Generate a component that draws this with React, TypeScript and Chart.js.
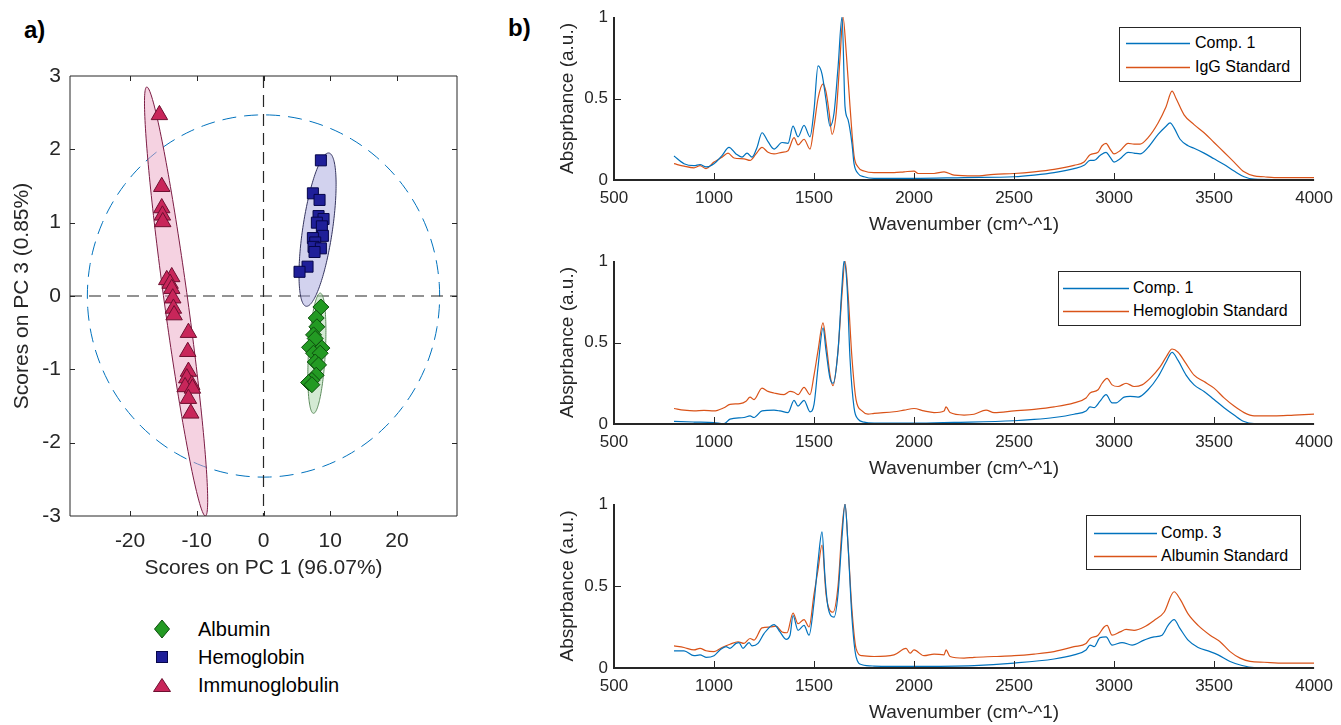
import React, { useEffect, useRef } from "react";
import { Chart, registerables } from "chart.js";
Chart.register(...registerables);

// ---------------- PCA scores (panel a) ----------------
const albuminPC1 = [8.6, 7.9, 8.0, 7.5, 7.75, 6.9, 8.75, 7.5, 8.5, 7.75, 8.25, 7.9, 7.25, 6.75, 7.25];
const albuminPC3 = [-0.15, -0.3, -0.42, -0.53, -0.58, -0.7, -0.71, -0.78, -0.78, -0.9, -0.94, -1.08, -1.15, -1.18, -1.21];
const hemoglobinPC1 = [8.6, 7.4, 8.4, 8.25, 9.0, 8.0, 8.75, 8.9, 7.4, 7.75, 7.5, 8.6, 7.65, 6.6, 5.4];
const hemoglobinPC3 = [1.85, 1.4, 1.31, 1.09, 1.05, 1.0, 0.95, 0.82, 0.79, 0.73, 0.67, 0.65, 0.6, 0.4, 0.33];
const immunoPC1 = [-15.6, -15.25, -15.25, -15.15, -15.1, -13.75, -14.5, -14.0, -13.75, -13.6, -13.5, -13.4, -11.25, -11.35, -11.25, -11.5, -10.75, -11.75, -10.65, -11.25, -10.9];
const immunoPC3 = [2.47, 1.49, 1.2, 1.1, 1.01, 0.26, 0.22, 0.17, 0.1, -0.03, -0.17, -0.26, -0.5, -0.76, -1.03, -1.12, -1.21, -1.24, -1.26, -1.4, -1.6];

// confidence ellipses: centre + two conjugate semi-axes (data units)
// order: 95% limit circle, Immunoglobulin, Hemoglobin, Albumin
const ellipseCX = [0, -13.1, 8.1, 8.0];
const ellipseCY = [0, -0.075, 0.905, -0.78];
const ellipseAX = [26.4, -4.4, 1.7, 0.5];
const ellipseAY = [0, 2.925, 1.045, 0.82];
const ellipseBX = [0, 1.75, 2.2, 1.26];
const ellipseBY = [2.47, 0.02, -0.03, 0];

const pc1Ticks = [-20, -10, 0, 10, 20];
const pc3Ticks = [-3, -2, -1, 0, 1, 2, 3];

// ---------------- Spectra (panel b) ----------------
const wnTicks = [500, 1000, 1500, 2000, 2500, 3000, 3500, 4000];
const absTicks = [0, 0.5, 1];

// IgG panel
const iggCompWn = [800,850,900,930,960,1000,1040,1075,1110,1140,1165,1190,1215,1240,1270,1300,1340,1370,1395,1420,1450,1480,1500,1520,1540,1560,1580,1600,1620,1640,1655,1670,1690,1700,1720,1750,1800,2000,2250,2500,2600,2700,2800,2850,2880,2900,2930,2960,2980,3000,3030,3070,3100,3130,3170,3220,3260,3280,3300,3330,3370,3400,3450,3500,3550,3600,3650,3700,3800,4000];
const iggCompAbs = [0.147,0.10,0.088,0.095,0.08,0.10,0.15,0.20,0.16,0.14,0.165,0.14,0.20,0.29,0.235,0.19,0.23,0.225,0.33,0.265,0.335,0.265,0.43,0.70,0.65,0.49,0.33,0.41,0.69,1.0,0.45,0.37,0.22,0.10,0.04,0.02,0.01,0.01,0.015,0.02,0.03,0.045,0.07,0.09,0.12,0.12,0.15,0.17,0.14,0.11,0.13,0.17,0.165,0.16,0.20,0.28,0.33,0.35,0.32,0.25,0.21,0.195,0.165,0.13,0.095,0.055,0.02,0.005,0.003,0.003];
const iggStdWn = [800,850,900,930,960,1000,1040,1070,1100,1150,1180,1210,1240,1270,1300,1340,1370,1400,1420,1450,1480,1500,1520,1545,1560,1575,1590,1610,1630,1645,1660,1680,1700,1720,1750,1800,1900,1950,2000,2020,2100,2150,2200,2300,2400,2500,2600,2700,2800,2850,2880,2920,2940,2960,2980,3000,3030,3070,3100,3130,3170,3220,3260,3290,3310,3350,3400,3450,3500,3550,3600,3650,3700,3750,3800,4000];
const iggStdAbs = [0.10,0.085,0.075,0.088,0.07,0.11,0.14,0.165,0.135,0.13,0.12,0.16,0.20,0.17,0.16,0.17,0.18,0.26,0.215,0.25,0.19,0.33,0.50,0.59,0.54,0.42,0.28,0.40,0.75,1.0,0.80,0.45,0.15,0.08,0.055,0.045,0.045,0.05,0.055,0.04,0.04,0.05,0.03,0.025,0.035,0.04,0.05,0.065,0.09,0.11,0.155,0.17,0.21,0.225,0.19,0.16,0.18,0.225,0.22,0.22,0.26,0.35,0.45,0.545,0.50,0.40,0.34,0.29,0.23,0.17,0.11,0.05,0.025,0.02,0.015,0.015];

// Hemoglobin panel
const hbCompWn = [800,900,1000,1050,1080,1150,1180,1200,1240,1300,1330,1370,1400,1420,1450,1480,1500,1520,1545,1560,1580,1595,1620,1640,1650,1665,1680,1700,1720,1750,1800,2000,2200,2500,2600,2700,2800,2860,2880,2900,2930,2960,2990,3010,3050,3080,3120,3170,3220,3260,3290,3320,3360,3400,3450,3500,3550,3600,3650,3700,4000];
const hbCompAbs = [0.016,0.012,0.008,0.002,0.03,0.04,0.05,0.04,0.08,0.085,0.08,0.07,0.145,0.11,0.145,0.075,0.12,0.35,0.59,0.45,0.28,0.25,0.45,0.85,1.0,0.85,0.4,0.1,0.03,0.012,0.006,0.005,0.01,0.02,0.028,0.04,0.06,0.08,0.105,0.10,0.14,0.18,0.13,0.13,0.165,0.17,0.165,0.21,0.29,0.38,0.44,0.39,0.30,0.24,0.20,0.15,0.10,0.055,0.015,0.003,0.002];
const hbStdWn = [800,850,900,950,1000,1050,1080,1130,1160,1180,1200,1240,1270,1300,1350,1380,1400,1420,1450,1480,1500,1520,1545,1560,1580,1595,1620,1640,1655,1670,1690,1710,1740,1770,1800,1900,1950,2000,2050,2100,2150,2160,2180,2250,2300,2360,2400,2500,2600,2700,2800,2860,2880,2920,2940,2965,2990,3020,3060,3100,3140,3180,3230,3260,3290,3320,3360,3400,3450,3500,3550,3600,3650,3700,3800,3900,4000];
const hbStdAbs = [0.095,0.085,0.08,0.083,0.08,0.10,0.12,0.125,0.14,0.165,0.15,0.22,0.20,0.19,0.18,0.20,0.195,0.18,0.225,0.18,0.30,0.45,0.62,0.50,0.30,0.235,0.45,0.80,1.0,0.80,0.40,0.15,0.08,0.06,0.065,0.075,0.085,0.095,0.08,0.07,0.08,0.105,0.07,0.055,0.06,0.085,0.07,0.08,0.09,0.105,0.13,0.16,0.19,0.21,0.25,0.28,0.24,0.23,0.25,0.23,0.24,0.28,0.35,0.41,0.46,0.44,0.37,0.30,0.26,0.22,0.16,0.11,0.07,0.05,0.05,0.055,0.06];

// Albumin panel
const albCompWn = [800,850,900,930,960,1000,1030,1060,1080,1110,1125,1145,1175,1190,1220,1250,1300,1330,1360,1380,1395,1420,1450,1475,1500,1520,1540,1555,1570,1600,1620,1640,1655,1670,1690,1710,1740,1800,2000,2300,2500,2700,2800,2860,2880,2900,2930,2960,2990,3040,3090,3150,3200,3240,3270,3300,3330,3370,3420,3480,3520,3580,3640,3700,4000];
const albCompAbs = [0.105,0.105,0.075,0.08,0.065,0.075,0.11,0.13,0.12,0.15,0.155,0.12,0.155,0.135,0.15,0.21,0.265,0.22,0.175,0.20,0.32,0.23,0.26,0.20,0.40,0.65,0.83,0.55,0.37,0.31,0.45,0.80,1.0,0.75,0.30,0.07,0.02,0.012,0.01,0.015,0.03,0.055,0.08,0.11,0.14,0.13,0.185,0.19,0.14,0.155,0.14,0.17,0.19,0.20,0.26,0.295,0.24,0.17,0.125,0.10,0.08,0.04,0.015,0.003,0.002];
const albStdWn = [800,850,900,930,960,1000,1040,1080,1120,1150,1180,1200,1240,1280,1310,1340,1365,1395,1420,1450,1475,1500,1520,1540,1560,1580,1595,1620,1640,1655,1670,1690,1710,1740,1800,1900,1960,1980,2000,2050,2100,2150,2160,2180,2250,2300,2400,2500,2600,2700,2800,2860,2880,2920,2950,2965,2990,3030,3060,3100,3150,3200,3250,3300,3330,3370,3420,3480,3530,3580,3630,3680,3750,3850,4000];
const albStdAbs = [0.135,0.125,0.11,0.12,0.105,0.10,0.125,0.145,0.16,0.15,0.18,0.17,0.245,0.25,0.255,0.22,0.215,0.335,0.27,0.295,0.25,0.45,0.60,0.75,0.45,0.35,0.34,0.50,0.85,1.0,0.75,0.35,0.12,0.075,0.07,0.08,0.12,0.09,0.11,0.075,0.085,0.08,0.11,0.07,0.06,0.065,0.07,0.075,0.085,0.10,0.13,0.15,0.18,0.20,0.25,0.26,0.20,0.22,0.235,0.23,0.25,0.29,0.34,0.465,0.42,0.33,0.26,0.20,0.16,0.10,0.06,0.04,0.035,0.03,0.03];

// ---------------- styles ----------------
const FONT = "'Liberation Sans', Arial, Helvetica, sans-serif";
const AXIS = "#262626";
const BLUE = "#0072BD";
const ORANGE = "#D95319";
const ellipseFill = [null, "rgba(236,166,196,0.5)", "rgba(166,166,222,0.5)", "rgba(168,214,168,0.5)"];
const ellipseStroke = [BLUE, "#7b1c44", "#34345e", "#5b8a5b"];

const zip = (xs: number[], ys: number[]) => xs.map((x, i) => ({ x, y: ys[i] }));

const matlabAxesPlugin = {
  id: "matlabAxes",
  afterDraw(chart: any, _a: any, opts: any) {
    const { ctx, chartArea } = chart;
    const { left, right, top, bottom } = chartArea;
    const xs = chart.scales.x;
    const ys = chart.scales.y;
    const L = opts.tickLen;
    ctx.save();
    ctx.strokeStyle = AXIS;
    ctx.lineWidth = opts.lineWidth;
    ctx.setLineDash([]);
    ctx.beginPath();
    if (opts.box) {
      ctx.rect(left, top, right - left, bottom - top);
    } else {
      ctx.moveTo(left, top);
      ctx.lineTo(left, bottom);
      ctx.lineTo(right, bottom);
    }
    ctx.stroke();
    ctx.lineWidth = 1;
    ctx.beginPath();
    xs.ticks.forEach((t: any) => {
      const p = Math.round(xs.getPixelForValue(t.value)) + 0.5;
      if (p <= left + 2 || p >= right - 2) return;
      ctx.moveTo(p, bottom);
      ctx.lineTo(p, bottom - L);
      if (opts.box) {
        ctx.moveTo(p, top);
        ctx.lineTo(p, top + L);
      }
    });
    ys.ticks.forEach((t: any) => {
      const p = Math.round(ys.getPixelForValue(t.value)) + 0.5;
      if (p <= top + 2 || p >= bottom - 2) return;
      ctx.moveTo(left, p);
      ctx.lineTo(left + L, p);
      if (opts.box) {
        ctx.moveTo(right, p);
        ctx.lineTo(right - L, p);
      }
    });
    ctx.stroke();
    ctx.restore();
  },
};

const scoreOverlayPlugin = {
  id: "scoreOverlay",
  beforeDatasetsDraw(chart: any) {
    const { ctx, chartArea } = chart;
    const xs = chart.scales.x;
    const ys = chart.scales.y;
    ctx.save();
    ctx.beginPath();
    ctx.rect(chartArea.left, chartArea.top, chartArea.width, chartArea.height);
    ctx.clip();
    const drawEllipse = (i: number) => {
      ctx.beginPath();
      const N = 180;
      for (let k = 0; k <= N; k++) {
        const t = (k / N) * Math.PI * 2;
        const dx = ellipseCX[i] + ellipseAX[i] * Math.cos(t) + ellipseBX[i] * Math.sin(t);
        const dy = ellipseCY[i] + ellipseAY[i] * Math.cos(t) + ellipseBY[i] * Math.sin(t);
        const px = xs.getPixelForValue(dx);
        const py = ys.getPixelForValue(dy);
        if (k === 0) ctx.moveTo(px, py);
        else ctx.lineTo(px, py);
      }
      ctx.closePath();
    };
    ctx.setLineDash([14, 8]);
    ctx.strokeStyle = ellipseStroke[0];
    ctx.lineWidth = 1;
    drawEllipse(0);
    ctx.stroke();
    ctx.setLineDash([12, 7]);
    ctx.strokeStyle = AXIS;
    ctx.lineWidth = 1.2;
    const x0 = xs.getPixelForValue(0);
    const y0 = ys.getPixelForValue(0);
    ctx.beginPath();
    ctx.moveTo(x0, chartArea.top);
    ctx.lineTo(x0, chartArea.bottom);
    ctx.moveTo(chartArea.left, y0);
    ctx.lineTo(chartArea.right, y0);
    ctx.stroke();
    ctx.setLineDash([]);
    for (let i = 1; i < ellipseCX.length; i++) {
      drawEllipse(i);
      ctx.fillStyle = ellipseFill[i] as string;
      ctx.fill();
      ctx.strokeStyle = ellipseStroke[i];
      ctx.lineWidth = 1;
      ctx.stroke();
    }
    ctx.restore();
  },
};

function ScoresChart() {
  const ref = useRef<HTMLCanvasElement>(null);
  useEffect(() => {
    const tickFont = { family: FONT, size: 21 };
    const chart = new Chart(ref.current as HTMLCanvasElement, {
      type: "scatter",
      data: {
        datasets: [
          {
            label: "Albumin",
            data: zip(albuminPC1, albuminPC3),
            pointStyle: "rectRot",
            pointRadius: 8,
            backgroundColor: "#239a23",
            borderColor: "#0d4d0d",
            borderWidth: 1,
          },
          {
            label: "Hemoglobin",
            data: zip(hemoglobinPC1, hemoglobinPC3),
            pointStyle: "rect",
            pointRadius: 7.8,
            backgroundColor: "#1f1f99",
            borderColor: "#06064a",
            borderWidth: 1,
          },
          {
            label: "Immunoglobulin",
            data: zip(immunoPC1, immunoPC3),
            pointStyle: "triangle",
            pointRadius: 9.5,
            backgroundColor: "#c8265a",
            borderColor: "#6e0f30",
            borderWidth: 1,
          },
        ],
      } as any,
      options: {
        responsive: false,
        animation: false,
        events: [],
        layout: { padding: { left: 0, right: 23, top: 76, bottom: 0 } },
        plugins: {
          legend: { display: false },
          tooltip: { enabled: false },
          matlabAxes: { box: true, tickLen: 5, lineWidth: 1 },
        } as any,
        scales: {
          x: {
            type: "linear",
            min: -29,
            max: 29,
            afterBuildTicks: (s: any) => {
              s.ticks = pc1Ticks.map((v) => ({ value: v }));
            },
            afterFit: (s: any) => {
              s.height = 84;
            },
            grid: { display: false, drawTicks: false },
            border: { display: false },
            ticks: { padding: 13, color: AXIS, font: tickFont, autoSkip: false, maxRotation: 0, callback: (v: any) => String(v) },
            title: { display: true, text: "Scores on PC 1 (96.07%)", color: AXIS, font: tickFont, padding: { top: 0, bottom: 19 } },
          },
          y: {
            type: "linear",
            min: -3,
            max: 3,
            afterBuildTicks: (s: any) => {
              s.ticks = pc3Ticks.map((v) => ({ value: v }));
            },
            afterFit: (s: any) => {
              s.width = 70;
            },
            grid: { display: false, drawTicks: false },
            border: { display: false },
            ticks: { padding: 9, color: AXIS, font: tickFont, autoSkip: false, callback: (v: any) => String(v) },
            title: { display: true, text: "Scores on PC 3 (0.85%)", color: AXIS, font: tickFont, padding: { top: 10, bottom: 0 } },
          },
        },
      } as any,
      plugins: [scoreOverlayPlugin, matlabAxesPlugin],
    });
    return () => chart.destroy();
  }, []);
  return <canvas ref={ref} width={480} height={600} style={{ position: "absolute", left: 0, top: 0, width: 480, height: 600 }} />;
}

function SpectrumChart(props: {
  top: number;
  height: number;
  padTop: number;
  compLabel: string;
  stdLabel: string;
  compWn: number[];
  compAbs: number[];
  stdWn: number[];
  stdAbs: number[];
}) {
  const ref = useRef<HTMLCanvasElement>(null);
  useEffect(() => {
    const tickFont = { family: FONT, size: 17 };
    const titleFont = { family: FONT, size: 19 };
    const chart = new Chart(ref.current as HTMLCanvasElement, {
      type: "line",
      data: {
        datasets: [
          {
            label: props.compLabel,
            data: zip(props.compWn, props.compAbs),
            borderColor: BLUE,
            borderWidth: 1.2,
            pointRadius: 0,
            cubicInterpolationMode: "monotone",
            fill: false,
          },
          {
            label: props.stdLabel,
            data: zip(props.stdWn, props.stdAbs),
            borderColor: ORANGE,
            borderWidth: 1.2,
            pointRadius: 0,
            cubicInterpolationMode: "monotone",
            fill: false,
          },
        ],
      } as any,
      options: {
        responsive: false,
        animation: false,
        events: [],
        layout: { padding: { left: 0, right: 23, top: props.padTop, bottom: 0 } },
        plugins: {
          legend: { display: false },
          tooltip: { enabled: false },
          matlabAxes: { box: false, tickLen: 7, lineWidth: 2 },
        } as any,
        scales: {
          x: {
            type: "linear",
            min: 500,
            max: 4000,
            afterBuildTicks: (s: any) => {
              s.ticks = wnTicks.map((v) => ({ value: v }));
            },
            afterFit: (s: any) => {
              s.height = 57;
            },
            grid: { display: false, drawTicks: false },
            border: { display: false },
            ticks: { padding: 8, color: AXIS, font: tickFont, autoSkip: false, maxRotation: 0, callback: (v: any) => String(v) },
            title: { display: true, text: "Wavenumber (cm^-^1)", color: AXIS, font: titleFont, padding: { top: 0, bottom: 1 } },
          },
          y: {
            type: "linear",
            min: 0,
            max: 1,
            afterBuildTicks: (s: any) => {
              s.ticks = absTicks.map((v) => ({ value: v }));
            },
            afterFit: (s: any) => {
              s.width = 114;
            },
            grid: { display: false, drawTicks: false },
            border: { display: false },
            ticks: { padding: 6, color: AXIS, font: tickFont, autoSkip: false, callback: (v: any) => String(v) },
            title: { display: true, text: "Absprbance (a.u.)", color: AXIS, font: titleFont, padding: { top: 56, bottom: 0 } },
          },
        },
      } as any,
      plugins: [matlabAxesPlugin],
    });
    return () => chart.destroy();
  }, []);
  return (
    <canvas
      ref={ref}
      width={841}
      height={props.height}
      style={{ position: "absolute", left: 500, top: props.top, width: 841, height: props.height }}
    />
  );
}

const legendLineColors = [BLUE, ORANGE];

function SpectraLegend(props: {
  left: number;
  top: number;
  width: number;
  height: number;
  lineStart: number;
  lineEnd: number;
  textX: number;
  rowY: number[];
  labels: string[];
}) {
  return (
    <div
      style={{
        position: "absolute",
        left: props.left,
        top: props.top,
        width: props.width,
        height: props.height,
        border: "1px solid #262626",
        boxSizing: "border-box",
        background: "#fff",
      }}
    >
      <svg
        width={props.width}
        height={props.height}
        style={{ position: "absolute", left: -1, top: -1 }}
      >
        {props.labels.map((lab, i) => (
          <line
            key={lab}
            x1={props.lineStart - props.left}
            x2={props.lineEnd - props.left}
            y1={props.rowY[i] - props.top + 0.5}
            y2={props.rowY[i] - props.top + 0.5}
            stroke={legendLineColors[i]}
            strokeWidth={1.3}
          />
        ))}
      </svg>
      {props.labels.map((lab, i) => (
        <div
          key={lab}
          style={{
            position: "absolute",
            left: props.textX - props.left - 1,
            top: props.rowY[i] - props.top - 11,
            height: 20,
            lineHeight: "20px",
            fontFamily: FONT,
            fontSize: 16,
            color: "#000",
            whiteSpace: "nowrap",
          }}
        >
          {lab}
        </div>
      ))}
    </div>
  );
}

function Marker({ kind }: { kind: string }) {
  if (kind === "diamond")
    return (
      <svg width={20} height={22} viewBox="0 0 20 22">
        <polygon points="10,2 17.5,11 10,20 2.5,11" fill="#239a23" stroke="#0d4d0d" strokeWidth={1} />
      </svg>
    );
  if (kind === "square")
    return (
      <svg width={20} height={22} viewBox="0 0 20 22">
        <rect x={4.5} y={5.5} width={11} height={11} fill="#1f1f99" stroke="#06064a" strokeWidth={1} />
      </svg>
    );
  return (
    <svg width={20} height={22} viewBox="0 0 20 22">
      <polygon points="10,4.5 18.5,17.5 1.5,17.5" fill="#c8265a" stroke="#6e0f30" strokeWidth={1} />
    </svg>
  );
}

const legendNames = ["Albumin", "Hemoglobin", "Immunoglobulin"];
const legendKinds = ["diamond", "square", "triangle"];

export default function App() {
  const rowY = [629, 657, 685];
  return (
    <div
      style={{
        position: "fixed",
        left: 0,
        top: 0,
        width: 1341,
        height: 725,
        overflow: "hidden",
        background: "#fff",
      }}
    >
      <div style={{ position: "absolute", left: 24, top: 16, fontFamily: FONT, fontWeight: "bold", fontSize: 24, color: "#000" }}>a)</div>
      <div style={{ position: "absolute", left: 508, top: 14, fontFamily: FONT, fontWeight: "bold", fontSize: 24, color: "#000" }}>b)</div>
      <ScoresChart />
      {legendNames.map((n, i) => (
        <React.Fragment key={n}>
          <div style={{ position: "absolute", left: 152, top: rowY[i] - 11, width: 20, height: 22 }}>
            <Marker kind={legendKinds[i]} />
          </div>
          <div
            style={{
              position: "absolute",
              left: 198,
              top: rowY[i] - 12,
              height: 24,
              lineHeight: "24px",
              fontFamily: FONT,
              fontSize: 20,
              color: "#000",
              whiteSpace: "nowrap",
            }}
          >
            {n}
          </div>
        </React.Fragment>
      ))}
      <SpectrumChart top={0} height={237} padTop={17} compLabel="Comp. 1" stdLabel="IgG Standard" compWn={iggCompWn} compAbs={iggCompAbs} stdWn={iggStdWn} stdAbs={iggStdAbs} />
      <SpectrumChart top={243} height={238} padTop={18} compLabel="Comp. 1" stdLabel="Hemoglobin Standard" compWn={hbCompWn} compAbs={hbCompAbs} stdWn={hbStdWn} stdAbs={hbStdAbs} />
      <SpectrumChart top={486} height={239} padTop={18} compLabel="Comp. 3" stdLabel="Albumin Standard" compWn={albCompWn} compAbs={albCompAbs} stdWn={albStdWn} stdAbs={albStdAbs} />
      <SpectraLegend left={1119} top={27} width={182} height={55} lineStart={1126} lineEnd={1190} textX={1195} rowY={[43, 67]} labels={["Comp. 1", "IgG Standard"]} />
      <SpectraLegend left={1058} top={271} width={243} height={55} lineStart={1063} lineEnd={1129} textX={1133} rowY={[288, 311]} labels={["Comp. 1", "Hemoglobin Standard"]} />
      <SpectraLegend left={1086} top={515} width={215} height={55} lineStart={1094} lineEnd={1157} textX={1161} rowY={[533, 556]} labels={["Comp. 3", "Albumin Standard"]} />
    </div>
  );
}
